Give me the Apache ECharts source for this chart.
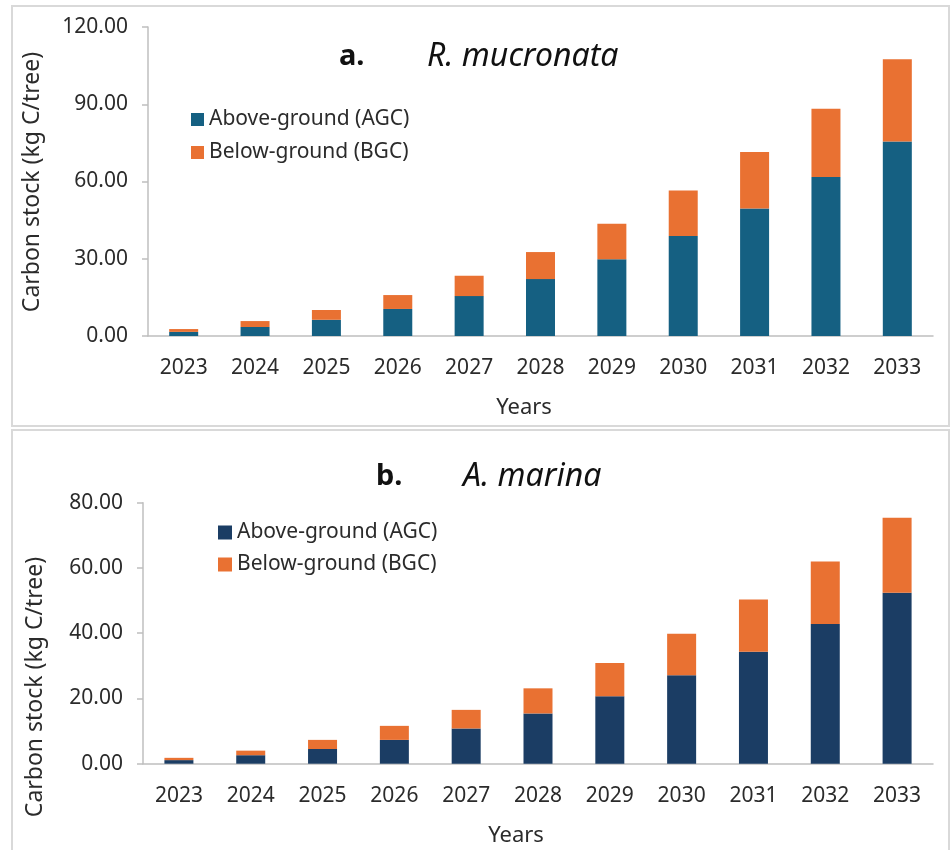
<!DOCTYPE html>
<html>
<head>
<meta charset="utf-8">
<script src="https://cdn.jsdelivr.net/npm/echarts@6/dist/echarts.min.js"></script>
<style>
  html, body { margin: 0; padding: 0; background: #ffffff; }
  #chartA { position: absolute; left: 0; top: 0; width: 951px; height: 428px; }
  #chartB { position: absolute; left: 0; top: 428px; width: 951px; height: 422px; }
</style>
</head>
<body>
<div id="chartA"></div>
<div id="chartB"></div>
<script>
// ---- Data ----
const years = ['2023','2024','2025','2026','2027','2028','2029','2030','2031','2032','2033'];

// Panel a: R. mucronata
const mucronataAGC = [1.6, 3.5, 6.3, 10.5, 15.5, 22.1, 29.8, 38.8, 49.5, 61.7, 75.5];
const mucronataBGC = [1.1, 2.3, 3.8, 5.4, 7.9, 10.5, 13.8, 17.7, 22.0, 26.6, 32.0];

// Panel b: A. marina
const marinaAGC = [1.1, 2.6, 4.5, 7.3, 10.8, 15.4, 20.7, 27.1, 34.3, 42.8, 52.4];
const marinaBGC = [0.7, 1.4, 2.8, 4.3, 5.7, 7.7, 10.2, 12.7, 16.0, 19.2, 23.0];

const seriesNames = ['Above-ground (AGC)', 'Below-ground (BGC)'];
const yAxisTitle = 'Carbon stock (kg C/tree)';
const xAxisTitle = 'Years';

// ---- Styles ----
const FONT = "'Noto Sans', sans-serif";
const TXT = '#2b2b2b';
const AXIS = '#bfbfbf';
const ORANGE = '#E97132';

function buildOption(cfg) {
  return {
    animation: false,
    textStyle: { fontFamily: FONT },
    title: [
      { text: cfg.letter, left: cfg.letterX, top: cfg.titleTop,
        textStyle: { fontFamily: FONT, fontSize: 29, fontWeight: 'bold', color: '#111', lineHeight: 32 } },
      { text: cfg.species, left: cfg.speciesX, top: cfg.titleTop,
        textStyle: { fontFamily: FONT, fontSize: 32, fontWeight: 'normal', fontStyle: 'italic', color: '#111', lineHeight: 32 } }
    ],
    legend: {
      orient: 'vertical',
      left: cfg.legendX,
      top: cfg.legendY,
      itemWidth: cfg.legendIcon,
      itemHeight: cfg.legendIcon,
      itemGap: cfg.legendGap,
      icon: 'rect',
      textStyle: { fontFamily: FONT, fontSize: cfg.legendFont, color: TXT },
      data: seriesNames
    },
    grid: {
      left: cfg.gridLeft, right: 18, top: cfg.gridTop, height: cfg.gridHeight,
      containLabel: false, outerBoundsMode: 'none'
    },
    xAxis: {
      type: 'category',
      data: years,
      name: xAxisTitle,
      nameLocation: 'middle',
      nameGap: 61,
      nameTextStyle: { fontFamily: FONT, fontSize: 22, color: TXT, padding: [0, cfg.yearsShift, 0, 0] },
      axisLine: { show: true, lineStyle: { color: AXIS, width: 1.5 } },
      axisTick: { show: false },
      axisLabel: { fontFamily: FONT, fontSize: 21, color: TXT, margin: 22 }
    },
    yAxis: {
      type: 'value',
      min: 0,
      max: cfg.yMax,
      interval: cfg.yInterval,
      axisLine: { show: true, lineStyle: { color: AXIS, width: 1.5 } },
      axisTick: { show: true, length: 6, inside: false, lineStyle: { color: AXIS, width: 1.5 } },
      splitLine: { show: false },
      axisLabel: { fontFamily: FONT, fontSize: 21, color: TXT, margin: 20,
        formatter: function (v) { return v.toFixed(2); } }
    },
    graphic: [
      { type: 'rect', silent: true, z: -1,
        shape: { x: 12, y: cfg.borderY, width: 937, height: cfg.borderH },
        style: { fill: 'none', stroke: '#d9d9d9', lineWidth: 2 } },
      { type: 'text', silent: true, x: cfg.yTitleX, y: cfg.yTitleY, rotation: Math.PI / 2,
        style: { text: yAxisTitle, fontFamily: FONT, fontSize: 23, fill: TXT,
          textAlign: 'center', textVerticalAlign: 'middle' } }
    ],
    series: [
      { name: seriesNames[0], type: 'bar', stack: 'total', data: cfg.agc,
        barWidth: 29, itemStyle: { color: cfg.blue } },
      { name: seriesNames[1], type: 'bar', stack: 'total', data: cfg.bgc,
        barWidth: 29, itemStyle: { color: ORANGE } }
    ]
  };
}

const chartA = echarts.init(document.getElementById('chartA'), null, { renderer: 'canvas' });
chartA.setOption(buildOption({
  letter: 'a.', species: 'R. mucronata', letterX: 334, speciesX: 422, titleTop: 36,
  legendX: 186, legendY: 104, legendIcon: 13, legendGap: 12, legendFont: 21,
  gridLeft: 148, gridTop: 27, gridHeight: 309,
  yMax: 120, yInterval: 30, yearsShift: 33,
  borderY: 6, borderH: 420, yTitleX: 32, yTitleY: 182,
  agc: mucronataAGC, bgc: mucronataBGC, blue: '#156082'
}));

const chartB = echarts.init(document.getElementById('chartB'), null, { renderer: 'canvas' });
chartB.setOption(buildOption({
  letter: 'b.', species: 'A. marina', letterX: 371, speciesX: 458, titleTop: 28,
  legendX: 213, legendY: 89, legendIcon: 14, legendGap: 11, legendFont: 21,
  gridLeft: 143, gridTop: 74.7, gridHeight: 261,
  yMax: 80, yInterval: 20, yearsShift: 44,
  borderY: 2, borderH: 440, yTitleX: 35, yTitleY: 259,
  agc: marinaAGC, bgc: marinaBGC, blue: '#1b3d64'
}));
</script>
</body>
</html>
